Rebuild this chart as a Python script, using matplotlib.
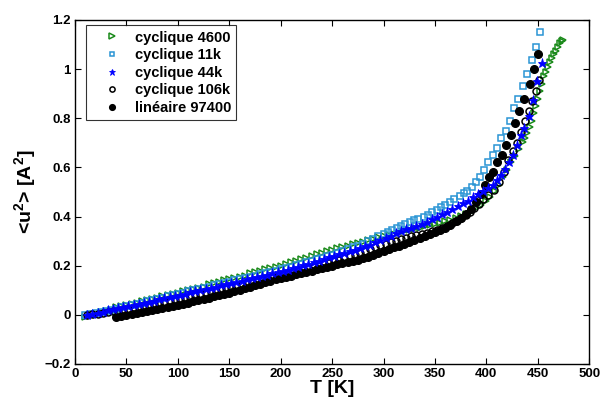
import matplotlib
matplotlib.use('Agg')
import matplotlib.pyplot as plt

# cyclique 4600
t_4600 = [10, 15, 20, 25, 30, 35, 40, 45, 50, 55, 60, 65, 70, 75, 80, 85, 90, 95, 100,
          105, 110, 115, 120, 125, 130, 135, 140, 145, 150, 155, 160, 165, 170, 175, 180,
          185, 190, 195, 200, 205, 210, 215, 220, 225, 230, 235, 240, 245, 250, 255, 260,
          265, 270, 275, 280, 285, 290, 295, 300, 305, 310, 315, 320, 325, 330, 335, 340,
          345, 350, 355, 360, 365, 370, 375, 380, 385, 390, 395, 400, 404, 408, 412, 416,
          420, 424, 428, 432, 436, 438, 440, 442, 444, 446, 448, 450, 452, 454, 456, 458,
          460, 462, 464, 466, 468, 470, 472, 474, 475]
u_4600 = [-0.01, -0.005, 0.0, 0.01, 0.015, 0.02, 0.03, 0.035, 0.04, 0.045, 0.05, 0.055,
          0.06, 0.065, 0.07, 0.075, 0.08, 0.085, 0.09, 0.095, 0.10, 0.105, 0.11, 0.115,
          0.125, 0.13, 0.135, 0.14, 0.145, 0.15, 0.155, 0.16, 0.17, 0.175, 0.18, 0.185,
          0.19, 0.195, 0.20, 0.207, 0.213, 0.22, 0.226, 0.233, 0.24, 0.246, 0.252, 0.258,
          0.265, 0.27, 0.276, 0.282, 0.288, 0.293, 0.298, 0.304, 0.31, 0.315, 0.32, 0.325,
          0.33, 0.335, 0.34, 0.345, 0.35, 0.355, 0.36, 0.365, 0.37, 0.375, 0.38, 0.387,
          0.394, 0.402, 0.41, 0.42, 0.433, 0.447, 0.462, 0.48, 0.505, 0.53, 0.56, 0.59,
          0.62, 0.645, 0.675, 0.705, 0.72, 0.74, 0.765, 0.79, 0.82, 0.85, 0.88, 0.91, 0.94,
          0.97, 0.99, 1.01, 1.03, 1.045, 1.06, 1.075, 1.09, 1.105, 1.115, 1.12]

# cyclique 11k
t_11k = [10, 15, 20, 25, 30, 35, 40, 45, 50, 55, 60, 65, 70, 75, 80, 85, 90, 95, 100,
         105, 110, 115, 120, 125, 130, 135, 140, 145, 150, 155, 160, 165, 170, 175, 180,
         185, 190, 195, 200, 205, 210, 215, 220, 225, 230, 235, 240, 245, 250, 255, 260,
         265, 270, 275, 280, 285, 290, 295, 300, 304, 308, 313, 317, 321, 326, 330, 334,
         339, 343, 347, 352, 356, 360, 365, 369, 374, 378, 381, 386, 390, 394, 398, 402,
         406, 410, 414, 419, 423, 427, 431, 436, 440, 444, 448, 452]
u_11k = [0.0, 0.003, 0.007, 0.011, 0.015, 0.02, 0.025, 0.03, 0.035, 0.04, 0.045, 0.05,
         0.055, 0.06, 0.065, 0.07, 0.075, 0.08, 0.085, 0.09, 0.095, 0.10, 0.105, 0.11,
         0.115, 0.12, 0.125, 0.13, 0.135, 0.14, 0.145, 0.15, 0.155, 0.16, 0.165, 0.17,
         0.175, 0.18, 0.185, 0.19, 0.196, 0.202, 0.208, 0.214, 0.22, 0.226, 0.232, 0.238,
         0.245, 0.252, 0.259, 0.266, 0.274, 0.282, 0.29, 0.30, 0.31, 0.32, 0.33, 0.338,
         0.346, 0.355, 0.362, 0.37, 0.378, 0.385, 0.392, 0.40, 0.408, 0.417, 0.428, 0.437,
         0.447, 0.46, 0.472, 0.485, 0.495, 0.505, 0.52, 0.54, 0.56, 0.59, 0.62, 0.65, 0.68,
         0.72, 0.75, 0.79, 0.84, 0.88, 0.93, 0.98, 1.035, 1.09, 1.15]

# cyclique 44k
t_44k = [12, 17, 22, 27, 32, 37, 42, 47, 52, 57, 62, 67, 72, 77, 82, 87, 92, 97, 102,
         107, 112, 117, 122, 127, 132, 137, 142, 147, 152, 157, 162, 167, 172, 177, 182,
         187, 192, 197, 202, 207, 212, 217, 222, 227, 232, 237, 242, 247, 252, 257, 262,
         267, 272, 277, 282, 287, 292, 297, 302, 307, 312, 317, 322, 327, 332, 337, 342,
         347, 352, 357, 362, 367, 372, 377, 382, 387, 392, 397, 402, 406, 410, 414, 418,
         422, 426, 430, 434, 437, 441, 445, 449, 454]
u_44k = [0.0, 0.004, 0.009, 0.013, 0.018, 0.022, 0.027, 0.031, 0.036, 0.04, 0.045, 0.049,
         0.054, 0.058, 0.063, 0.068, 0.072, 0.077, 0.082, 0.086, 0.091, 0.096, 0.10, 0.105,
         0.11, 0.115, 0.12, 0.124, 0.129, 0.134, 0.139, 0.144, 0.149, 0.154, 0.159, 0.164,
         0.169, 0.174, 0.179, 0.184, 0.19, 0.196, 0.202, 0.208, 0.214, 0.22, 0.227, 0.234,
         0.24, 0.246, 0.252, 0.258, 0.265, 0.272, 0.279, 0.286, 0.295, 0.304, 0.313, 0.322,
         0.332, 0.34, 0.348, 0.355, 0.363, 0.371, 0.379, 0.388, 0.398, 0.41, 0.42, 0.43,
         0.442, 0.454, 0.465, 0.478, 0.49, 0.503, 0.516, 0.53, 0.55, 0.57, 0.595, 0.62,
         0.65, 0.69, 0.73, 0.76, 0.81, 0.875, 0.95, 1.026]

# cyclique 106k
t_106k = [12, 17, 22, 27, 32, 37, 42, 47, 52, 57, 62, 67, 72, 77, 82, 87, 92, 97, 102,
          107, 112, 117, 122, 127, 132, 137, 142, 147, 152, 157, 162, 167, 172, 177, 182,
          187, 192, 197, 202, 207, 212, 217, 222, 227, 232, 237, 242, 247, 252, 257, 262,
          267, 272, 277, 282, 287, 292, 297, 302, 307, 312, 317, 322, 327, 332, 337, 342,
          347, 352, 357, 362, 367, 371, 375, 380, 384, 388, 393, 397, 402, 407, 412, 417,
          421, 426, 430, 434, 438, 441, 444, 448, 451]
u_106k = [0.0, 0.002, 0.005, 0.008, 0.011, 0.014, 0.017, 0.02, 0.024, 0.028, 0.032, 0.036,
          0.04, 0.044, 0.048, 0.052, 0.056, 0.06, 0.064, 0.069, 0.074, 0.079, 0.084, 0.089,
          0.094, 0.099, 0.104, 0.109, 0.114, 0.119, 0.124, 0.129, 0.134, 0.139, 0.144,
          0.149, 0.154, 0.159, 0.164, 0.169, 0.174, 0.179, 0.184, 0.19, 0.195, 0.20, 0.206,
          0.212, 0.218, 0.224, 0.231, 0.238, 0.245, 0.252, 0.26, 0.268, 0.276, 0.284, 0.29,
          0.296, 0.302, 0.308, 0.314, 0.319, 0.324, 0.329, 0.334, 0.34, 0.345, 0.352, 0.362,
          0.372, 0.382, 0.394, 0.408, 0.42, 0.435, 0.452, 0.47, 0.488, 0.51, 0.54, 0.58,
          0.63, 0.665, 0.70, 0.745, 0.79, 0.83, 0.87, 0.91, 0.955]

# lineaire 97400
t_97400 = [40, 45, 50, 55, 60, 65, 70, 75, 80, 85, 90, 95, 100, 105, 110, 115, 120, 125,
           130, 135, 140, 145, 150, 155, 160, 165, 170, 175, 180, 185, 190, 195, 200, 205,
           210, 215, 220, 225, 230, 235, 240, 245, 250, 255, 260, 265, 270, 275, 280, 285,
           290, 295, 300, 305, 310, 315, 320, 325, 330, 335, 340, 345, 350, 355, 360, 365,
           370, 375, 380, 385, 390, 395, 399, 403, 406, 410, 415, 419, 424, 428, 432, 437,
           442, 446, 450]
u_97400 = [-0.01, -0.005, 0.0, 0.004, 0.008, 0.012, 0.016, 0.02, 0.024, 0.028, 0.032,
           0.036, 0.04, 0.045, 0.05, 0.055, 0.06, 0.065, 0.07, 0.075, 0.08, 0.085, 0.09,
           0.096, 0.102, 0.108, 0.114, 0.12, 0.126, 0.132, 0.138, 0.144, 0.15, 0.155, 0.16,
           0.165, 0.17, 0.175, 0.18, 0.185, 0.19, 0.195, 0.20, 0.205, 0.21, 0.215, 0.22,
           0.225, 0.23, 0.236, 0.243, 0.25, 0.258, 0.266, 0.274, 0.282, 0.29, 0.298, 0.305,
           0.312, 0.32, 0.328, 0.336, 0.345, 0.355, 0.367, 0.38, 0.395, 0.41, 0.43, 0.46,
           0.49, 0.53, 0.56, 0.58, 0.62, 0.65, 0.69, 0.73, 0.78, 0.83, 0.88, 0.94, 1.0, 1.06]

x_ticks = [0, 50, 100, 150, 200, 250, 300, 350, 400, 450, 500]
y_ticks = [-0.2, 0, 0.2, 0.4, 0.6, 0.8, 1, 1.2]
y_tick_labels = ['\u22120.2', '0', '0.2', '0.4', '0.6', '0.8', '1', '1.2']


def main():
    plt.rcParams['font.family'] = 'Liberation Sans'
    plt.rcParams['font.weight'] = 'bold'
    plt.rcParams['mathtext.fontset'] = 'custom'
    plt.rcParams['mathtext.rm'] = 'Liberation Sans:bold'
    plt.rcParams['mathtext.bf'] = 'Liberation Sans:bold'
    plt.rcParams['mathtext.default'] = 'bf'

    fig = plt.figure(figsize=(6, 4.07), dpi=100)
    ax = fig.add_axes([0.125, 0.1057, 0.857, 0.8453])

    ax.plot(t_4600, u_4600, '>', color='#1a8a1a', mfc='none', ms=5, mew=1.1,
            label='cyclique 4600')
    ax.plot(t_11k, u_11k, 's', color='#2a95d4', mfc='none', ms=4, mew=1.1,
            label='cyclique 11k')
    ax.plot(t_44k, u_44k, '*', color='#0000ff', ms=6.5, mew=0.6,
            label='cyclique 44k', zorder=4)
    ax.plot(t_106k, u_106k, 'o', color='black', mfc='none', ms=5, mew=1.1,
            label='cyclique 106k')
    ax.plot(t_97400, u_97400, 'o', color='black', ms=5.5,
            label='lin\u00e9aire 97400')

    ax.set_xlim(0, 500)
    ax.set_ylim(-0.2, 1.2)
    ax.set_xticks(x_ticks)
    ax.set_yticks(y_ticks)
    ax.set_yticklabels(y_tick_labels)
    ax.tick_params(direction='in', top=True, right=True, labelsize=9.5, length=4,
                   width=0.8, pad=3)
    for s in ax.spines.values():
        s.set_linewidth(1.0)

    ax.set_xlabel('T [K]', fontsize=14, fontweight='bold', labelpad=0)
    ax.set_ylabel(r'<u$^{2}$> [A$^{2}$]', fontsize=14, fontweight='bold', labelpad=5)

    leg = ax.legend(loc='upper left', fontsize=10.5, frameon=True, fancybox=False,
                    edgecolor='black', handletextpad=0.2, borderpad=0.35,
                    labelspacing=0.25, handlelength=2.8, markerscale=0.75,
                    bbox_to_anchor=(0.0214, 0.984), borderaxespad=0)
    leg.get_frame().set_linewidth(0.8)

    fig.savefig('out.png', dpi=100)


if __name__ == "__main__":
    main()
